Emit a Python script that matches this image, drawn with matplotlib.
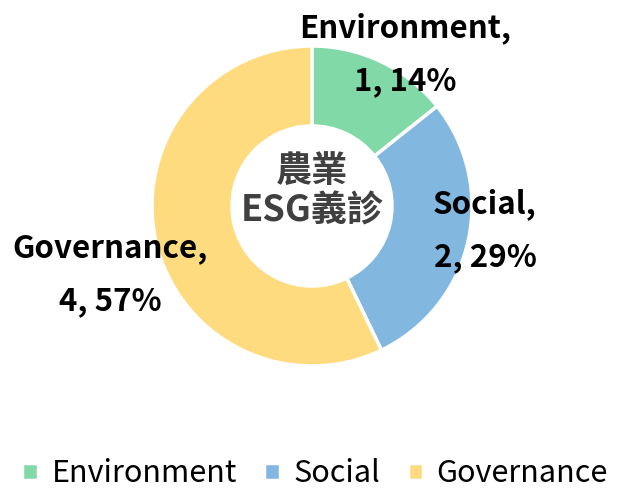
import matplotlib.pyplot as plt

categories = ['Environment', 'Social', 'Governance']
counts = [1, 2, 4]
colors = ['#82D9A8', '#82B8E0', '#FFDB7F']
center_title = '農業\nESG義診'

plt.rcParams['font.family'] = ['Noto Sans CJK TC', 'DejaVu Sans']

fig = plt.figure(figsize=(6.18, 4.92), dpi=100)
ax = fig.add_axes([0, 0, 1, 1])

total = sum(counts)
wedges, _ = ax.pie(counts, colors=colors, startangle=90, counterclock=False,
                   center=(312, 286), radius=160, frame=True,
                   wedgeprops=dict(width=80, edgecolor='white', linewidth=2.5))
ax.set_xlim(0, 618)
ax.set_ylim(0, 492)
ax.set_aspect('equal')
ax.axis('off')

# data labels placed around the ring
label_pos = [(405, 438), (485, 262), (110, 218)]
for name, n, (x, y) in zip(categories, counts, label_pos):
    pct = round(n / total * 100)
    ax.text(x, y + 26, f'{name},', ha='center', va='center',
            fontsize=22.5, fontweight='bold', color='black')
    ax.text(x, y - 27, f'{n}, {pct}%', ha='center', va='center',
            fontsize=22.5, fontweight='bold', color='black')

ax.text(312, 300, center_title, ha='center', va='center', fontsize=26,
        fontweight='bold', color='#404040', linespacing=1.05)

fig.legend(wedges, categories, loc='center', bbox_to_anchor=(0.51, 1 - 474 / 492),
           ncol=3, frameon=False, fontsize=22, handlelength=0.5, handleheight=0.5,
           handletextpad=0.45, columnspacing=0.9, borderpad=0.2)

fig.savefig('out.png', dpi=100)
